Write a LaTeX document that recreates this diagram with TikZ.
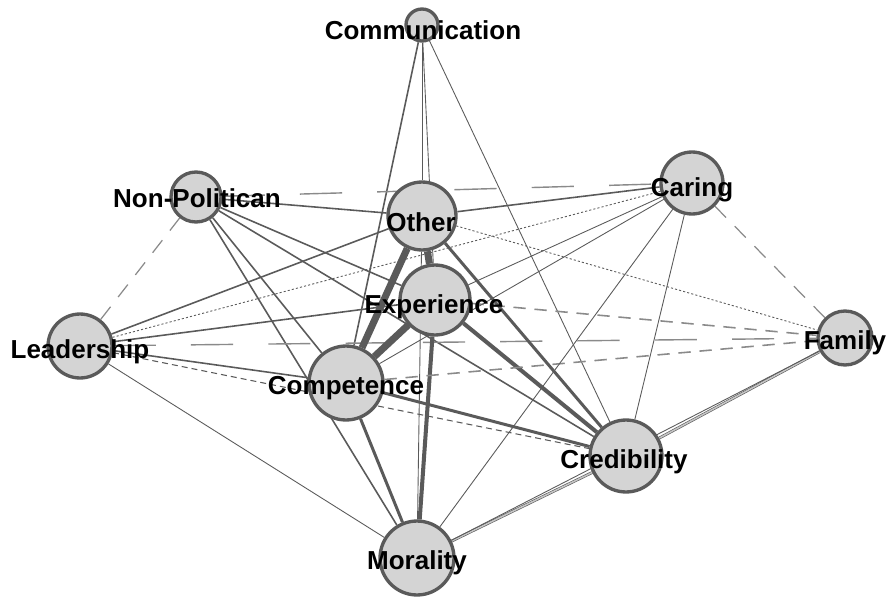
\documentclass[tikz,border=0pt]{standalone}
\usepackage{fontspec}
\setmainfont{Liberation Sans}
\usetikzlibrary{backgrounds}
\definecolor{nodegray}{HTML}{D4D4D4}
\definecolor{rimgray}{HTML}{5A5A5A}
\definecolor{edgegray}{HTML}{5A5A5A}
\definecolor{lightedge}{HTML}{8A8A8A}

\begin{document}
\begin{tikzpicture}[x=0.02cm,y=-0.02cm,
    vtx/.style={circle,draw=rimgray,fill=nodegray,line width=1.9pt,inner sep=0pt,minimum size=#1*0.04cm},
    lbl/.style={font=\bfseries\fontsize{14.8}{16}\selectfont,inner sep=0pt},
    e1/.style={draw=edgegray,line width=0.5pt},
    e2/.style={draw=edgegray,line width=0.9pt},
    e3/.style={draw=edgegray,line width=1.7pt},
    e4/.style={draw=edgegray,line width=2.3pt},
    e5/.style={draw=edgegray,line width=4pt},
    fine/.style={draw=edgegray,line width=0.5pt,dash pattern=on 1.2pt off 1.2pt},
    short/.style={draw=edgegray,line width=0.6pt,dash pattern=on 3.4pt off 2.3pt},
    medium/.style={draw=lightedge,line width=0.9pt,dash pattern=on 7pt off 5pt},
    long/.style={draw=lightedge,line width=0.7pt,dash pattern=on 9pt off 7pt},
    sparse/.style={draw=lightedge,line width=0.8pt,dash pattern=on 24pt off 20pt},
    twin/.style={draw=edgegray,line width=0.35pt,double=lightedge!50,double distance=0.9pt}]

  \useasboundingbox (0,0) rectangle (894,599);

  \node[vtx=16] (comm) at (422,25) {};
  \node[vtx=25] (nonpol) at (196,197) {};
  \node[vtx=34] (other) at (422,216) {};
  \node[vtx=35] (exper) at (435,300) {};
  \node[vtx=31] (caring) at (692,183) {};
  \node[vtx=27] (family) at (845,338) {};
  \node[vtx=32] (lead) at (80,346) {};
  \node[vtx=37] (compet) at (346,383) {};
  \node[vtx=36] (cred) at (626,456) {};
  \node[vtx=37] (moral) at (417,558) {};

  \begin{scope}[on background layer]
    \draw[e1] (comm) -- (other);
    \draw[e1] (comm) -- (exper);
    \draw[e2] (comm) -- (compet);
    \draw[e1] (comm) -- (cred);

    \draw[long] (nonpol) -- (lead);
    \draw[e2] (nonpol) -- (other);
    \draw[sparse] (nonpol) -- (caring);
    \draw[e2] (nonpol) -- (exper);
    \draw[e2] (nonpol) -- (cred);
    \draw[e2] (nonpol) -- (compet);
    \draw[e2] (nonpol) -- (moral);

    \draw[e2] (lead) -- (other);
    \draw[fine] (lead) -- (caring);
    \draw[e2] (lead) -- (exper);
    \draw[e2] (lead) -- (compet);
    \draw[short] (lead) -- (cred);
    \draw[e1] (lead) -- (moral);
    \draw[sparse] (lead) -- (family);

    \draw[e2] (other) -- (caring);
    \draw[e5] (other) -- (exper);
    \draw[e5] (other) -- (compet);
    \draw[e3] (other) -- (cred);
    \draw[fine] (other) -- (family);
    \draw[e1] (other) -- (moral);

    \draw[e5] (exper) -- (compet);
    \draw[e4] (exper) -- (moral);
    \draw[e4] (exper) -- (cred);
    \draw[medium] (exper) -- (family);
    \draw[e1] (exper) -- (caring);

    \draw[e3] (compet) -- (cred);
    \draw[medium] (compet) -- (family);
    \draw[e1] (compet) -- (caring);
    \draw[e3] (compet) -- (moral);

    \draw[twin] (cred) -- (family);
    \draw[twin] (cred) -- (moral);
    \draw[e1] (cred) -- (caring);

    \draw[e1] (moral) -- (caring);
    \draw[e1] (moral) -- (family);
    \draw[long] (caring) -- (family);
  \end{scope}

  \node[lbl] (comm-t) at (423,30) {Communication};
  \node[lbl] (nonpol-t) at (197,198) {Non-Politican};
  \node[lbl] (other-t) at (421,222) {Other};
  \node[lbl] (exper-t) at (434,307) {Experience};
  \node[lbl] (caring-t) at (692,190) {Caring};
  \node[lbl] (family-t) at (845,343) {Family};
  \node[lbl] (lead-t) at (80,352) {Leadership};
  \node[lbl] (compet-t) at (346,388) {Competence};
  \node[lbl] (cred-t) at (624,462) {Credibility};
  \node[lbl] (moral-t) at (417,563) {Morality};

\end{tikzpicture}
\end{document}
